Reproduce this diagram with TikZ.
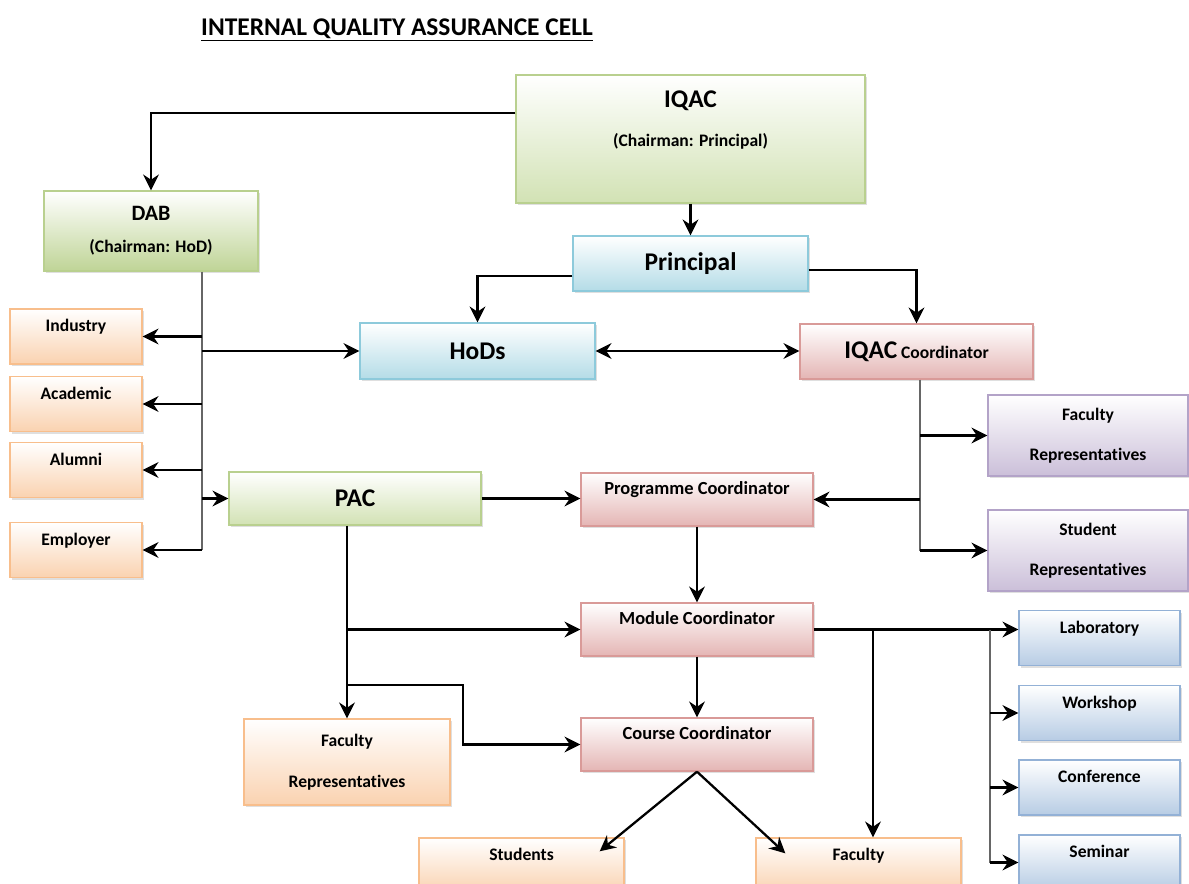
\documentclass[tikz,border=0pt]{standalone}
\usepackage{fontspec}
\setmainfont{Carlito}[Ligatures=NoCommon]
\usetikzlibrary{arrows.meta, shadows}
\definecolor{grnF}{HTML}{D2E2B4}
\definecolor{grnG}{HTML}{BFD496}
\definecolor{grnD}{HTML}{B9D08F}
\definecolor{bluF}{HTML}{B4DCE7}
\definecolor{bluD}{HTML}{8DCADB}
\definecolor{redF}{HTML}{E4B5B4}
\definecolor{redD}{HTML}{D99A98}
\definecolor{orgF}{HTML}{FAD2B0}
\definecolor{orgD}{HTML}{F8BE8C}
\definecolor{purF}{HTML}{CBBFD9}
\definecolor{purD}{HTML}{B3A3C8}
\definecolor{skyF}{HTML}{B7CCE4}
\definecolor{skyD}{HTML}{93B1D6}
\newcommand{\bigtxt}{\fontsize{14.5}{17}\selectfont}
\newcommand{\midtxt}{\fontsize{12.5}{15}\selectfont}
\newcommand{\smtxt}{\fontsize{10}{12}\selectfont}

\begin{document}
\begin{tikzpicture}[x=0.02cm, y=-0.02cm,
    >={Stealth[length=9pt, width=9pt, inset=3pt]},
    box/.style={rectangle, draw, line width=0.8pt, inner sep=0pt, align=center,
      font=\bfseries\smtxt, drop shadow={shadow xshift=1pt, shadow yshift=-1.2pt, opacity=0.25}},
    grnbox/.style={box, top color=white, bottom color=grnF, draw=grnD},
    blubox/.style={box, top color=white, bottom color=bluF, draw=bluD},
    redbox/.style={box, top color=white, bottom color=redF, draw=redD},
    orgbox/.style={box, top color=white, bottom color=orgF, draw=orgD},
    purbox/.style={box, top color=white, bottom color=purF, draw=purD},
    skybox/.style={box, top color=white, bottom color=skyF, draw=skyD},
    lift/.style={text height=0.2cm, text depth=0.4cm},
    link/.style={line width=1.3pt, ->},
    feed/.style={line width=1pt, black!60}]
    \useasboundingbox (0,0) rectangle (1189,883);
    \clip (0,0) rectangle (1189,883);

    % Title
    \node[font=\bfseries\fontsize{14.5}{17}\selectfont] (ttl) at (397,30) {\underline{INTERNAL QUALITY ASSURANCE CELL}};

    % Top boxes
    \node[grnbox, minimum width=6.98cm, minimum height=2.56cm] (iqac) at (690.5,139)
      {{\bigtxt IQAC}\\[10pt](Chairman: Principal)\\[11pt]\mbox{}};
    \node[grnbox, bottom color=grnG, minimum width=4.28cm, minimum height=1.6cm] (dab) at (151,231)
      {{\midtxt DAB}\\[6pt](Chairman: HoD)};
    \node[blubox, font=\bfseries\bigtxt, minimum width=4.7cm, minimum height=1.1cm] (prin) at (690.5,263.5) {Principal};
    \node[blubox, font=\bfseries\bigtxt, minimum width=4.7cm, minimum height=1.12cm] (hods) at (477.5,351) {HoDs};
    \node[redbox, minimum width=4.66cm, minimum height=1.1cm] (iqacc) at (916.5,351.5) {{\bigtxt IQAC} Coordinator};

    % DAB members
    \foreach \nm/\tx/\yy in {ind/Industry/336.5, aca/Academic/404, alu/Alumni/470, emp/Employer/550}
      \node[orgbox, lift, minimum width=2.64cm, minimum height=1.1cm] (\nm) at (76,\yy) {\tx};

    % Middle boxes
    \node[grnbox, font=\bfseries\bigtxt, minimum width=5.04cm, minimum height=1.06cm] (pac) at (355,498.5) {PAC};
    \node[redbox, lift, font=\bfseries\fontsize{10.5}{12}\selectfont, minimum width=4.64cm, minimum height=1.06cm] (prog) at (697,499.5) {Programme Coordinator};
    \node[redbox, lift, font=\bfseries\fontsize{10.5}{12}\selectfont, minimum width=4.64cm, minimum height=1.06cm] (mod) at (697,629.5) {Module Coordinator};
    \node[redbox, lift, font=\bfseries\fontsize{10.5}{12}\selectfont, minimum width=4.64cm, minimum height=1.06cm] (crs) at (697,744.5) {Course Coordinator};
    \node[purbox, minimum width=4.0cm, minimum height=1.62cm] (frep) at (1088,435.5) {Faculty\\[11pt]Representatives};
    \node[purbox, minimum width=4.0cm, minimum height=1.62cm] (srep) at (1088,550.5) {Student\\[11pt]Representatives};
    \node[orgbox, minimum width=4.12cm, minimum height=1.72cm] (facrep) at (347,762) {Faculty\\[11pt]Representatives};

    % Bottom boxes
    \node[orgbox, lift, minimum width=4.1cm, minimum height=1.1cm] (stu) at (521.5,865.5) {Students};
    \node[orgbox, lift, minimum width=4.1cm, minimum height=1.1cm] (fac) at (858.5,865.5) {Faculty};
    \foreach \nm/\tx/\yy in {lab/Laboratory/638, wsh/Workshop/713, conf/Conference/787.5, sem/Seminar/862.5}
      \node[skybox, lift, minimum width=3.22cm, minimum height=1.1cm] (\nm) at (1099.5,\yy) {\tx};

    % IQAC and Principal links
    \draw[link] (iqac.west |- 0,113) -| (dab.north);
    \draw[link] (iqac.south) -- (prin.north);
    \draw[link] (prin.west |- 0,276) -| (hods.north);
    \draw[link] (prin.east |- 0,270) -| (iqacc.north);
    \draw[link, <->] (hods.east) -- (hods.east -| iqacc.west);

    % DAB trunk
    \coordinate (dabend) at (202,550);
    \draw[feed] (dab.south -| dabend) -- (dabend);
    \foreach \b in {ind,aca,alu,emp}
      \draw[link] (dabend |- \b.east) -- (\b.east);
    \draw[link] (dabend |- hods.west) -- (hods.west);
    \draw[link] (dabend |- pac.west) -- (pac.west);

    % IQAC Coordinator trunk
    \coordinate (qend) at (920,550.5);
    \draw[feed] (iqacc.south -| qend) -- (qend);
    \foreach \b in {frep,srep}
      \draw[link] (qend |- \b.west) -- (\b.west);
    \draw[link] (qend |- prog.east) -- (prog.east);

    % Coordinators
    \draw[link] (pac.east) -- (pac.east -| prog.west);
    \draw[link] (prog.south) -- (mod.north);
    \draw[link] (mod.south) -- (crs.north);

    % PAC trunk
    \draw[link] (pac.south -| facrep.north) -- (facrep.north);
    \draw[link] (facrep.north |- mod.west) -- (mod.west);
    \draw[link] (facrep.north |- 0,685) -- (463,685) |- (crs.west);

    % Module Coordinator to activities
    \draw[link] (mod.east) -- (mod.east -| lab.west);
    \draw[link] (mod.east -| 873,0) -- (fac.north -| 873,0);
    \coordinate (rend) at (990,862.5);
    \draw[feed] (mod.east -| rend) -- (rend);
    \foreach \b in {wsh,conf,sem}
      \draw[link] (rend |- \b.west) -- (\b.west);

    % Course Coordinator to students and faculty
    \draw[link] (crs.south) -- ([shift={(-25,14)}]stu.north east);
    \draw[link] (crs.south) -- ([shift={(30,16)}]fac.north west);
\end{tikzpicture}
\end{document}
